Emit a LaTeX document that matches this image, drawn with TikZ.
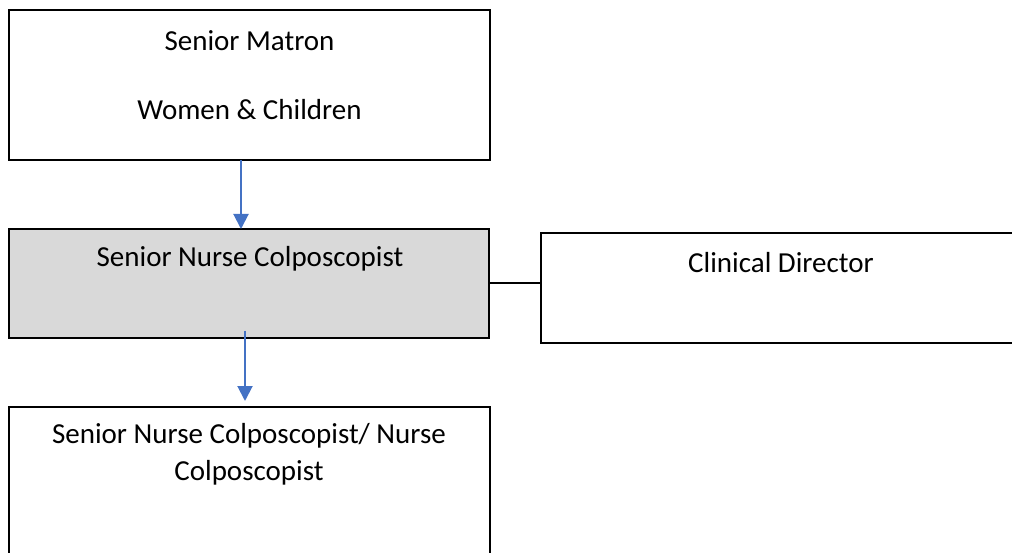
\documentclass[tikz,border=0pt]{standalone}
\usepackage{fontspec}
\setmainfont{Carlito}
\usetikzlibrary{arrows.meta}
\definecolor{arrowblue}{HTML}{4472C4}
\definecolor{boxgrey}{HTML}{D9D9D9}
\tikzset{
  box/.style={draw=black, line width=2pt, rectangle, inner sep=0pt, outer sep=0pt},
  lbl/.style={anchor=base, inner sep=0pt, font=\fontsize{29}{36}\selectfont},
  arr/.style={draw=arrowblue, line width=2pt, -{Triangle[width=15pt,length=15pt]}},
  link/.style={draw=black, line width=2pt}
}
\begin{document}
\begin{tikzpicture}[x=1pt,y=-1pt]
\useasboundingbox (0,0) rectangle (1012,553);
% boxes
\node[box, fill=white, minimum width=481pt, minimum height=150pt] (sm) at (249.5,85) {};
\node[box, fill=boxgrey, minimum width=480pt, minimum height=109pt] (snc) at (249,283.5) {};
\node[box, fill=white, minimum width=479pt, minimum height=110pt] (cd) at (780.5,288) {};
\node[box, fill=white, minimum width=481pt, minimum height=156pt] (nc) at (249.5,485) {};
% labels
\node[lbl] (t1) at (249.5,51) {Senior Matron};
\node[lbl] (t2) at (249.5,120) {Women \& Children};
\node[lbl] (t3) at (250,267) {Senior Nurse Colposcopist};
\node[lbl] (t4) at (781,273) {Clinical Director};
\node[lbl] (t5) at (249,443) {Senior Nurse Colposcopist/ Nurse};
\node[lbl] (t6) at (249,480) {Colposcopist};
% connectors
\coordinate (a1) at (241,0);
\coordinate (a2s) at (245,331);
\draw[arr] (sm.south -| a1) -- (snc.north -| a1);
\draw[arr, shorten >=6pt] (a2s) -- (a2s |- nc.north);
\draw[link] (snc.east) -- (snc.east -| cd.west);
\end{tikzpicture}
\end{document}
